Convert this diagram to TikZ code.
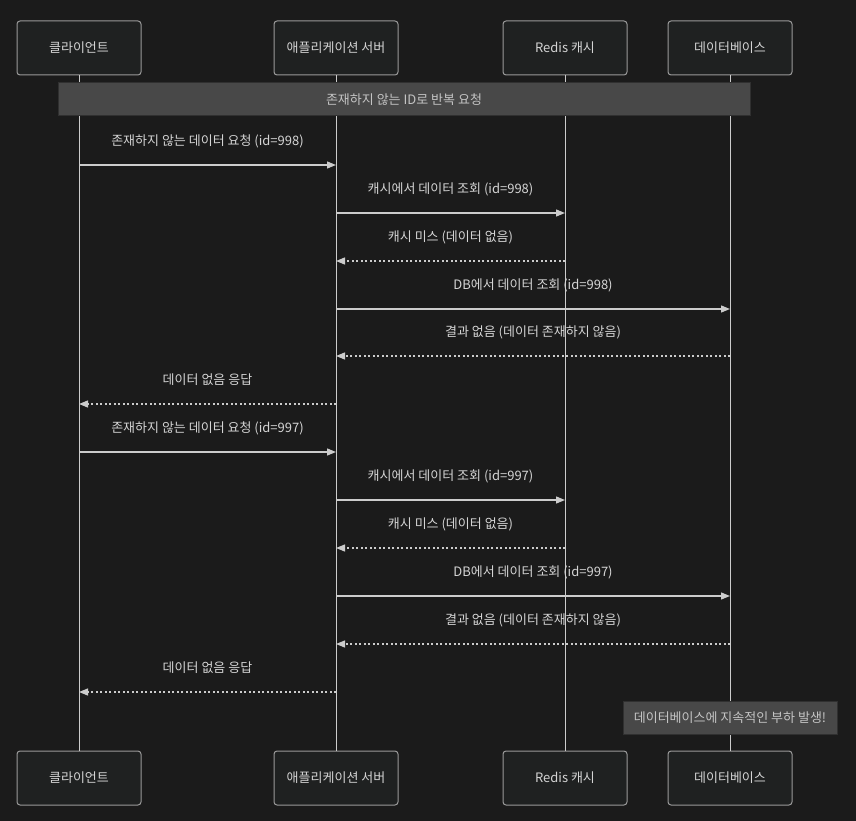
\documentclass[tikz,border=0pt]{standalone}
\usepackage{fontspec}
\newfontfamily\cjk{Noto Sans CJK KR}
\usetikzlibrary{arrows.meta}
\definecolor{bg}{HTML}{1B1B1B}
\definecolor{boxfill}{HTML}{1F2121}
\definecolor{boxline}{HTML}{9A9A9A}
\definecolor{txt}{HTML}{D4D4D4}
\definecolor{ln}{HTML}{CCCCCC}
\definecolor{notefill}{HTML}{484848}
\definecolor{noteline}{HTML}{303030}
\definecolor{notetxt}{HTML}{C4C4C4}
\tikzset{
  actor/.style={draw=boxline, fill=boxfill, line width=1pt, rounded corners=3pt,
    minimum width=124pt, minimum height=54pt, inner sep=0pt, text=txt,
    font=\cjk\fontsize{13}{15}\selectfont},
  life/.style={draw=ln, line width=1pt},
  msg/.style={draw=ln, line width=1.3pt, -{Triangle[length=9pt,width=7pt]}},
  reply/.style={msg, dash pattern=on 2pt off 2.5pt},
  lbl/.style={text=txt, font=\cjk\fontsize{13}{15}\selectfont, inner sep=0pt, anchor=center, yshift=24pt},
  notebox/.style={draw=noteline, fill=notefill, line width=1pt, text=notetxt,
    font=\cjk\fontsize{13}{15}\selectfont, inner sep=0pt}
}
\begin{document}
\begin{tikzpicture}[x=1pt,y=-1pt]
\fill[bg] (0,0) rectangle (856,821);
\useasboundingbox (0,0) rectangle (856,821);
% participants
\node[actor] (cT) at (79,48) {클라이언트};
\node[actor] (aT) at (336,48) {애플리케이션 서버};
\node[actor] (rT) at (565,48) {Redis 캐시};
\node[actor] (dT) at (730,48) {데이터베이스};
\node[actor] (cB) at (79,778) {클라이언트};
\node[actor] (aB) at (336,778) {애플리케이션 서버};
\node[actor] (rB) at (565,778) {Redis 캐시};
\node[actor] (dB) at (730,778) {데이터베이스};
% lifelines
\draw[life] (cT.south) -- (cB.north);
\draw[life] (aT.south) -- (aB.north);
\draw[life] (rT.south) -- (rB.north);
\draw[life] (dT.south) -- (dB.north);
% note
\node[notebox, minimum width=692pt, minimum height=33pt] (n1) at (404,99.5) {존재하지 않는 ID로 반복 요청};
% message anchor points
\foreach \i/\y in {1/165,2/213,3/261,4/309,5/356,6/404,7/452,8/500,9/548,10/596,11/644,12/692}{
  \coordinate (c\i) at (79,\y);
  \coordinate (a\i) at (336,\y);
  \coordinate (r\i) at (565,\y);
  \coordinate (d\i) at (730,\y);
}
% round 1
\draw[msg] (c1) -- (a1) node[lbl, midway] {존재하지 않는 데이터 요청 (id=998)};
\draw[msg] (a2) -- (r2) node[lbl, midway] {캐시에서 데이터 조회 (id=998)};
\draw[reply] (r3) -- (a3) node[lbl, midway] {캐시 미스 (데이터 없음)};
\draw[msg] (a4) -- (d4) node[lbl, midway] {DB에서 데이터 조회 (id=998)};
\draw[reply] (d5) -- (a5) node[lbl, midway] {결과 없음 (데이터 존재하지 않음)};
\draw[reply] (a6) -- (c6) node[lbl, midway] {데이터 없음 응답};
% round 2
\draw[msg] (c7) -- (a7) node[lbl, midway] {존재하지 않는 데이터 요청 (id=997)};
\draw[msg] (a8) -- (r8) node[lbl, midway] {캐시에서 데이터 조회 (id=997)};
\draw[reply] (r9) -- (a9) node[lbl, midway] {캐시 미스 (데이터 없음)};
\draw[msg] (a10) -- (d10) node[lbl, midway] {DB에서 데이터 조회 (id=997)};
\draw[reply] (d11) -- (a11) node[lbl, midway] {결과 없음 (데이터 존재하지 않음)};
\draw[reply] (a12) -- (c12) node[lbl, midway] {데이터 없음 응답};
% note 2
\node[notebox, minimum width=214pt, minimum height=33pt] (n2) at (730,717.5) {데이터베이스에 지속적인 부하 발생!};
\end{tikzpicture}
\end{document}
